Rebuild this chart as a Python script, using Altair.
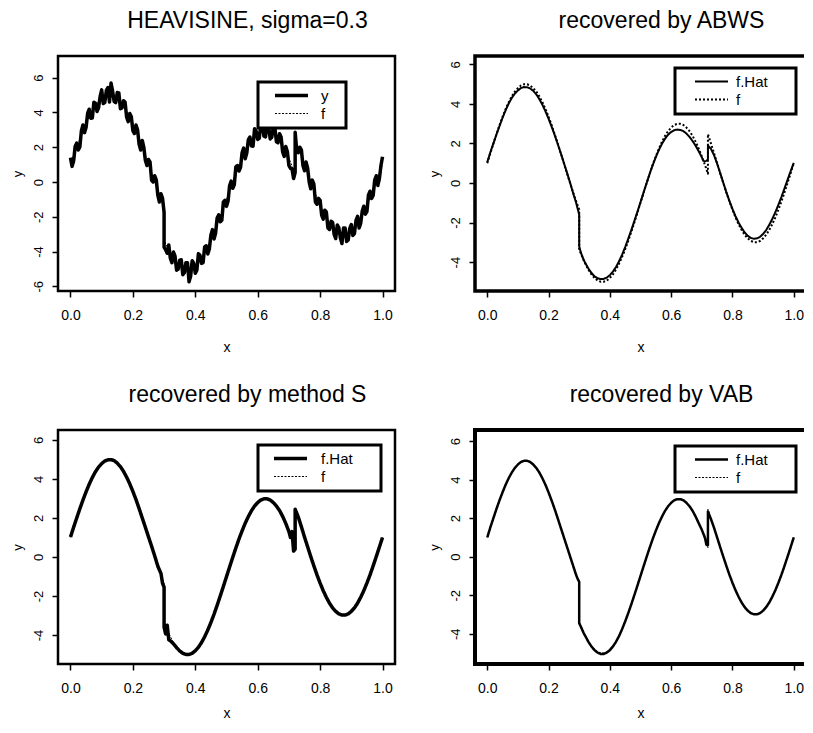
import altair as alt
import pandas as pd

FONT = "Liberation Sans"

# x grid of the smooth curves (extra points around the jumps at 0.30 and 0.72)
X = [0.00, 0.01, 0.02, 0.03, 0.04, 0.05, 0.06, 0.07, 0.08, 0.09,
     0.10, 0.11, 0.12, 0.13, 0.14, 0.15, 0.16, 0.17, 0.18, 0.19,
     0.20, 0.21, 0.22, 0.23, 0.24, 0.25, 0.26, 0.27, 0.28, 0.29,
     0.295, 0.30, 0.30, 0.305, 0.31, 0.315,
     0.32, 0.33, 0.34, 0.35, 0.36, 0.37, 0.38, 0.39,
     0.40, 0.41, 0.42, 0.43, 0.44, 0.45, 0.46, 0.47, 0.48, 0.49,
     0.50, 0.51, 0.52, 0.53, 0.54, 0.55, 0.56, 0.57, 0.58, 0.59,
     0.60, 0.61, 0.62, 0.63, 0.64, 0.65, 0.66, 0.67, 0.68, 0.69,
     0.70, 0.705, 0.71, 0.715, 0.72, 0.72,
     0.73, 0.74, 0.75, 0.76, 0.77, 0.78, 0.79,
     0.80, 0.81, 0.82, 0.83, 0.84, 0.85, 0.86, 0.87, 0.88, 0.89,
     0.90, 0.91, 0.92, 0.93, 0.94, 0.95, 0.96, 0.97, 0.98, 0.99, 1.00]

F_TRUE = [1.00, 1.50, 1.99, 2.47, 2.93, 3.35, 3.74, 4.08, 4.38, 4.62,
          4.80, 4.93, 4.99, 4.99, 4.93, 4.80, 4.62, 4.38, 4.08, 3.74,
          3.35, 2.93, 2.47, 1.99, 1.50, 1.00, 0.50, 0.01, -0.47, -0.93,
          -1.14, -1.35, -3.35, -3.55, -3.74, -3.92,
          -4.08, -4.38, -4.62, -4.80, -4.93, -4.99, -4.99, -4.93, -4.80, -4.62,
          -4.38, -4.08, -3.74, -3.35, -2.93, -2.47, -1.99, -1.50, -1.00, -0.50,
          -0.01, 0.47, 0.93, 1.35, 1.74, 2.08, 2.38, 2.62, 2.80, 2.93,
          2.99, 2.99, 2.93, 2.80, 2.62, 2.38, 2.08, 1.74,
          1.35, 1.14, 0.93, 0.70, 0.47, 2.47,
          1.99, 1.50, 1.00, 0.50, 0.01, -0.47, -0.93, -1.35, -1.74, -2.08,
          -2.38, -2.62, -2.80, -2.93, -2.99, -2.99, -2.93, -2.80, -2.62, -2.38,
          -2.08, -1.74, -1.35, -0.93, -0.47, 0.01, 0.50, 1.00]

# noisy observations (panel 1), denser grid
NOISY_X = [0.000, 0.005, 0.010, 0.015, 0.020, 0.025, 0.030, 0.035, 0.040, 0.045,
           0.050, 0.055, 0.060, 0.065, 0.070, 0.075, 0.080, 0.085, 0.090, 0.095,
           0.100, 0.105, 0.110, 0.115, 0.120, 0.125, 0.130, 0.135, 0.140, 0.145,
           0.150, 0.155, 0.160, 0.165, 0.170, 0.175, 0.180, 0.185, 0.190, 0.195,
           0.200, 0.205, 0.210, 0.215, 0.220, 0.225, 0.230, 0.235, 0.240, 0.245,
           0.250, 0.255, 0.260, 0.265, 0.270, 0.275, 0.280, 0.285, 0.290, 0.295,
           0.300, 0.300, 0.305, 0.310, 0.315, 0.320, 0.325, 0.330, 0.335, 0.340,
           0.345, 0.350, 0.355, 0.360, 0.365, 0.370, 0.375, 0.380, 0.385, 0.390,
           0.395, 0.400, 0.405, 0.410, 0.415, 0.420, 0.425, 0.430, 0.435, 0.440,
           0.445, 0.450, 0.455, 0.460, 0.465, 0.470, 0.475, 0.480, 0.485, 0.490,
           0.495, 0.500, 0.505, 0.510, 0.515, 0.520, 0.525, 0.530, 0.535, 0.540,
           0.545, 0.550, 0.555, 0.560, 0.565, 0.570, 0.575, 0.580, 0.585, 0.590,
           0.595, 0.600, 0.605, 0.610, 0.615, 0.620, 0.625, 0.630, 0.635, 0.640,
           0.645, 0.650, 0.655, 0.660, 0.665, 0.670, 0.675, 0.680, 0.685, 0.690,
           0.695, 0.700, 0.705, 0.710, 0.715, 0.720, 0.720, 0.725, 0.730, 0.735,
           0.740, 0.745, 0.750, 0.755, 0.760, 0.765, 0.770, 0.775, 0.780, 0.785,
           0.790, 0.795, 0.800, 0.805, 0.810, 0.815, 0.820, 0.825, 0.830, 0.835,
           0.840, 0.845, 0.850, 0.855, 0.860, 0.865, 0.870, 0.875, 0.880, 0.885,
           0.890, 0.895, 0.900, 0.905, 0.910, 0.915, 0.920, 0.925, 0.930, 0.935,
           0.940, 0.945, 0.950, 0.955, 0.960, 0.965, 0.970, 0.975, 0.980, 0.985,
           0.990, 0.995, 1.000]

NOISY_Y = [1.40, 0.90, 1.20, 2.05, 2.24, 1.84, 2.02, 2.95, 3.28, 2.84,
           3.15, 3.95, 4.19, 3.67, 3.68, 4.59, 4.53, 4.06, 4.27, 4.92,
           5.30, 4.52, 4.58, 5.27, 5.44, 4.60, 5.69, 5.22, 4.63, 4.57,
           5.15, 5.12, 4.22, 4.26, 4.68, 4.59, 3.73, 3.47, 3.94, 3.75,
           2.95, 2.79, 3.28, 3.00, 2.17, 1.84, 2.39, 2.00, 1.25, 0.95,
           1.30, 1.15, 0.10, 0.00, 0.36, 0.11, -0.77, -1.15, -0.68, -0.94,
           -1.75, -3.75, -3.90, -4.10, -3.62, -4.38, -4.64, -4.03, -4.26, -5.07,
           -5.02, -4.50, -4.47, -5.33, -5.22, -4.64, -4.65, -5.74, -5.42, -4.53,
           -4.67, -5.25, -5.07, -4.12, -4.21, -4.68, -4.64, -3.73, -3.67, -4.14,
           -3.85, -3.05, -2.74, -3.28, -2.95, -2.07, -1.89, -2.29, -2.20, -1.15,
           -1.05, -1.40, -1.10, -0.20, 0.05, -0.36, -0.16, 0.87, 0.95, 0.63,
           0.84, 1.70, 1.95, 1.34, 1.67, 2.43, 2.59, 2.08, 2.06, 3.07,
           2.92, 2.45, 2.52, 3.33, 3.27, 2.64, 2.60, 3.29, 3.22, 2.48,
           2.57, 3.15, 3.12, 2.32, 2.26, 2.78, 2.59, 1.73, 1.47, 2.04,
           1.75, 0.95, 0.79, 0.75, 0.20, 0.55, 2.87, 1.84, 1.69, 2.00,
           1.85, 0.95, 0.65, 1.15, 0.80, 0.00, -0.39, 0.11, -0.12, -1.15,
           -1.28, -0.94, -1.05, -1.90, -2.14, -1.62, -1.73, -2.64, -2.73, -2.26,
           -2.32, -3.02, -3.25, -2.47, -2.63, -3.22, -3.54, -2.65, -2.64, -3.42,
           -3.33, -2.67, -2.45, -3.07, -2.97, -2.21, -1.98, -2.64, -2.38, -1.67,
           -1.39, -1.85, -1.70, -0.74, -0.53, -0.95, -0.77, 0.11, 0.36, -0.20,
           0.20, 0.95, 1.45]

ABWS_HAT = [1.05, 1.55, 2.00, 2.45, 2.88, 3.30, 3.68, 4.02, 4.30, 4.52,
            4.68, 4.80, 4.85, 4.84, 4.78, 4.66, 4.48, 4.24, 3.95, 3.62,
            3.25, 2.85, 2.42, 1.97, 1.50, 1.02, 0.53, 0.03, -0.50, -1.00,
            -1.30, -1.60, -3.20, -3.50, -3.70, -3.90,
            -4.05, -4.32, -4.55, -4.72, -4.82, -4.86, -4.85, -4.78, -4.66, -4.48,
            -4.25, -3.96, -3.62, -3.24, -2.82, -2.38, -1.92, -1.45, -0.97, -0.48,
            0.00, 0.47, 0.91, 1.31, 1.67, 1.98, 2.24, 2.44, 2.58, 2.67,
            2.70, 2.68, 2.62, 2.50, 2.33, 2.12, 1.88, 1.60,
            1.30, 1.12, 1.10, 1.12, 1.20, 1.90,
            1.72, 1.40, 0.98, 0.50, 0.02, -0.46, -0.90, -1.31, -1.68, -2.00,
            -2.27, -2.50, -2.67, -2.78, -2.82, -2.80, -2.72, -2.58, -2.38, -2.12,
            -1.82, -1.48, -1.10, -0.70, -0.27, 0.17, 0.60, 1.02]

S_HAT = [1.02, 1.52, 2.00, 2.47, 2.92, 3.34, 3.73, 4.07, 4.37, 4.61,
         4.79, 4.92, 4.98, 4.99, 4.94, 4.81, 4.63, 4.39, 4.09, 3.75,
         3.36, 2.94, 2.48, 2.00, 1.52, 1.03, 0.55, 0.05, -0.48, -0.85,
         -1.35, -1.55, -3.60, -3.95, -3.50, -4.25,
         -4.30, -4.45, -4.65, -4.82, -4.94, -5.00, -5.00, -4.94, -4.81, -4.63,
         -4.39, -4.09, -3.75, -3.36, -2.94, -2.48, -2.00, -1.51, -1.01, -0.51,
         -0.02, 0.46, 0.92, 1.34, 1.73, 2.07, 2.37, 2.61, 2.79, 2.92,
         2.98, 2.98, 2.92, 2.79, 2.61, 2.38, 2.08, 1.72,
         1.30, 1.00, 1.30, 0.30, 0.40, 2.45,
         2.05, 1.55, 1.02, 0.52, 0.02, -0.46, -0.92, -1.34, -1.73, -2.07,
         -2.37, -2.61, -2.79, -2.92, -2.98, -2.98, -2.92, -2.79, -2.61, -2.37,
         -2.07, -1.73, -1.34, -0.92, -0.46, 0.02, 0.51, 1.00]

VAB_HAT = [1.00, 1.52, 2.00, 2.48, 2.93, 3.35, 3.74, 4.08, 4.37, 4.61,
           4.79, 4.92, 4.98, 4.98, 4.92, 4.79, 4.61, 4.37, 4.07, 3.73,
           3.34, 2.92, 2.47, 1.99, 1.50, 1.01, 0.52, 0.03, -0.46, -0.95,
           -1.15, -1.30, -3.45, -3.62, -3.80, -3.98,
           -4.12, -4.42, -4.66, -4.85, -4.98, -5.05, -5.05, -4.98, -4.85, -4.66,
           -4.42, -4.12, -3.76, -3.36, -2.93, -2.47, -1.99, -1.50, -1.00, -0.50,
           -0.01, 0.47, 0.93, 1.35, 1.74, 2.08, 2.38, 2.62, 2.80, 2.93,
           2.99, 2.99, 2.93, 2.80, 2.62, 2.38, 2.08, 1.74,
           1.40, 1.20, 1.00, 0.62, 0.60, 2.35,
           1.95, 1.50, 1.00, 0.50, 0.01, -0.47, -0.93, -1.35, -1.74, -2.08,
           -2.38, -2.62, -2.80, -2.93, -2.99, -2.99, -2.93, -2.80, -2.62, -2.38,
           -2.08, -1.74, -1.35, -0.93, -0.47, 0.01, 0.50, 1.00]

TITLES = ["HEAVISINE, sigma=0.3", "recovered by ABWS",
          "recovered by method S", "recovered by VAB"]
X_TICKS = [0.0, 0.2, 0.4, 0.6, 0.8, 1.0]
Y_TICKS_A = [-6, -4, -2, 0, 2, 4, 6]
Y_TICKS_B = [-4, -2, 0, 2, 4, 6]

BLANK = "\u2800"  # invisible filler that widens the legend box


def panel(title, est_name, est_x, est_vals, ydom, yticks, w, h,
          est_w, f_w, f_dash, view_sw, lx, ly, sym_off, lab_off, n_fill,
          x_title_y):
    df = pd.DataFrame({
        "x": est_x + X,
        "y": est_vals + F_TRUE,
        "series": [est_name] * len(est_x) + ["f"] * len(X),
        "order": list(range(len(est_x) + len(X))),
    })
    dom = [est_name, "f"]
    leg = alt.Legend(
        title=None, orient="none", legendX=lx, legendY=ly,
        padding=6, rowPadding=2,
        symbolType="M-3,0H3", symbolSize=121, symbolOffset=sym_off,
        symbolStrokeColor="black",
        labelFont=FONT, labelFontSize=15, labelColor="black",
        labelOffset=lab_off,
        labelExpr="datum.label + '" + BLANK * n_fill + "'",
        strokeColor="black", fillColor="white",
    )
    xaxis = alt.Axis(
        values=X_TICKS, format=".1f", title="x", domain=False, grid=False,
        tickSize=6, tickWidth=1.5, tickColor="black",
        labelFont=FONT, labelFontSize=14, labelColor="black",
        labelPadding=11, labelFlush=False, labelOverlap=False,
        titleFont=FONT, titleFontSize=14, titleFontWeight="normal",
        titleColor="black", titleY=x_title_y, titleBaseline="alphabetic",
    )
    yaxis = alt.Axis(
        values=yticks, title="y", domain=False, grid=False,
        tickSize=6, tickWidth=1.5, tickColor="black",
        labelAngle=270, labelAlign="center", labelBaseline="alphabetic",
        labelPadding=10, labelExpr="'' + datum.value",
        labelFont=FONT, labelFontSize=13, labelColor="black",
        labelFlush=False, labelOverlap=False,
        titleFont=FONT, titleFontSize=13, titleFontWeight="normal",
        titleColor="black", titleAngle=270, titleX=-37,
        titleBaseline="alphabetic", titleAlign="center",
    )
    return alt.Chart(df).mark_line(
        color="black", strokeCap="butt", strokeJoin="round"
    ).encode(
        x=alt.X("x:Q", scale=alt.Scale(domain=[-0.04, 1.04], nice=False, zero=False),
                axis=xaxis),
        y=alt.Y("y:Q", scale=alt.Scale(domain=ydom, nice=False, zero=False),
                axis=yaxis),
        strokeDash=alt.StrokeDash(
            "series:N", scale=alt.Scale(domain=dom, range=[[1, 0], f_dash]),
            legend=leg),
        strokeWidth=alt.StrokeWidth(
            "series:N",
            scale=alt.Scale(type="point", padding=0, domain=dom, range=[est_w, f_w]),
            legend=leg),
        order=alt.Order("order:Q"),
    ).properties(
        width=w, height=h,
        title=alt.Title(title, font=FONT, fontSize=23, fontWeight="normal",
                        color="black", anchor="middle", dx=21,
                        baseline="alphabetic", offset=5),
        view=alt.ViewBackground(stroke="black", strokeWidth=view_sw, fill="white"),
    )


p1 = panel(TITLES[0], "y", NOISY_X, NOISY_Y, [-6.27, 7.25], Y_TICKS_A, 337, 235,
           3.5, 1, [2, 1.5], 2.5, 200, 26, 20, 22, 1, 60)
p2 = panel(TITLES[1], "f.Hat", X, ABWS_HAT, [-5.46, 6.42], Y_TICKS_B, 331, 235,
           2, 2, [2, 2], 3.5, 200, 12, 23, 17, 2, 60)
p3 = panel(TITLES[2], "f.Hat", X, S_HAT, [-5.49, 6.51], Y_TICKS_B, 337, 234,
           3.5, 1, [2, 1.5], 2.5, 200, 15, 19, 23, 2, 53)
p4 = panel(TITLES[3], "f.Hat", X, VAB_HAT, [-5.57, 6.58], Y_TICKS_B, 331, 234,
           2.5, 1, [2, 1.5], 4, 200, 16, 23, 17, 2, 53)

chart = alt.concat(
    p1, p2, p3, p4, columns=2,
    spacing={"row": 139, "column": 80}, bounds="flush",
).resolve_scale(
    x="independent", y="independent",
    strokeDash="independent", strokeWidth="independent",
).resolve_legend(
    strokeDash="independent", strokeWidth="independent",
).properties(
    padding={"left": 1, "top": 0, "right": -4, "bottom": 0},
    background="white",
).configure_legend(strokeWidth=3)

chart.save("out.html", embed_options={"renderer": "svg", "actions": False})
